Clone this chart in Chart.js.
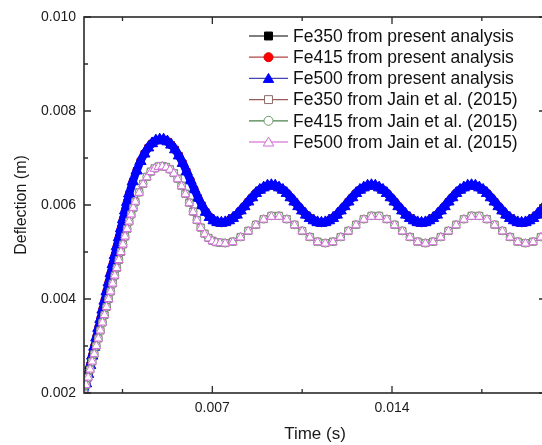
<!DOCTYPE html>
<html>
<head>
<meta charset="utf-8">
<script src="https://cdn.jsdelivr.net/npm/chart.js@4/dist/chart.umd.min.js"></script>
<style>
html,body{margin:0;padding:0;background:#fff;overflow:hidden;}
#wrap{width:542px;height:445px;overflow:hidden;position:relative;}
canvas{display:block;}
</style>
</head>
<body>
<div id="wrap"><canvas id="c" width="560" height="445"></canvas></div>
<script>
// ---- tick values ----
const xTickValues = [0.007, 0.014];
const xMinorTicks = [0.0035, 0.0105, 0.0175];
const yTickValues = [0.002, 0.004, 0.006, 0.008, 0.010];
const yMinorTicks = [0.003, 0.005, 0.007, 0.009];

// ---- present analysis (time, s) ----
const timePresent = [
0.00200,0.00208,0.00216,0.00224,0.00232,0.00240,0.00248,0.00256,0.00264,0.00272,0.00280,0.00288,0.00296,0.00304,0.00312,0.00320,0.00328,0.00336,0.00344,0.00352,0.00360,0.00368,0.00376,
0.00390,0.00405,0.00420,0.00435,0.00450,0.00465,0.00480,0.00495,0.00510,0.00525,0.00540,0.00555,0.00570,0.00585,0.00600,0.00615,0.00630,0.00645,0.00660,0.00675,0.00690,0.00705,0.00720,0.00735,
0.00750,0.00765,0.00780,0.00795,0.00810,0.00825,0.00840,0.00855,0.00870,0.00885,
0.00900,0.00915,0.00930,0.00945,0.00960,0.00975,0.00990,0.01005,0.01020,0.01035,
0.01050,0.01065,0.01080,0.01095,0.01110,0.01125,0.01140,0.01155,0.01170,0.01185,
0.01200,0.01215,0.01230,0.01245,0.01260,0.01275,0.01290,0.01305,0.01320,0.01335,
0.01350,0.01365,0.01380,0.01395,0.01410,0.01425,0.01440,0.01455,0.01470,0.01485,
0.01500,0.01515,0.01530,0.01545,0.01560,0.01575,0.01590,0.01605,0.01620,0.01635,
0.01650,0.01665,0.01680,0.01695,0.01710,0.01725,0.01740,0.01755,0.01770,0.01785,
0.01800,0.01815,0.01830,0.01845,0.01860,0.01875,0.01890,0.01905,0.01920,0.01935,
0.01950,0.01965,0.01980,0.01995];

// deflection (m)
const fe350Present = [
0.00200,0.00220,0.00240,0.00259,0.00279,0.00298,0.00318,0.00338,0.00357,0.00377,0.00396,0.00416,0.00435,0.00455,0.00474,0.00493,0.00512,0.00531,0.00550,0.00569,0.00588,0.00606,0.00624,
0.00650,0.00673,0.00693,0.00709,0.00722,0.00731,0.00737,0.00739,0.00739,0.00735,0.00728,0.00718,0.00705,0.00689,0.00671,0.00652,0.00633,0.00615,0.00599,0.00585,0.00574,0.00567,0.00563,0.00562,
0.00563,0.00567,0.00572,0.00579,0.00588,0.00597,0.00607,0.00616,0.00625,0.00632,0.00637,0.00641,0.00642,0.00641,0.00637,0.00632,0.00625,0.00616,0.00607,0.00597,0.00588,0.00579,0.00572,0.00567,0.00563,
0.00562,0.00563,0.00567,0.00572,0.00579,0.00588,0.00597,0.00607,0.00616,0.00625,0.00632,0.00637,0.00641,0.00642,0.00641,0.00637,0.00632,0.00625,0.00616,0.00607,0.00597,0.00588,0.00579,0.00572,0.00567,0.00563,
0.00562,0.00563,0.00567,0.00572,0.00579,0.00588,0.00597,0.00607,0.00616,0.00625,0.00632,0.00637,0.00641,0.00642,0.00641,0.00637,0.00632,0.00625,0.00616,0.00607,0.00597,0.00588,0.00579,0.00572,0.00567,0.00563,
0.00562,0.00563,0.00567,0.00572,0.00579,0.00588,0.00597];
const fe415Present = [
0.00200,0.00220,0.00240,0.00259,0.00279,0.00298,0.00318,0.00338,0.00357,0.00377,0.00396,0.00416,0.00435,0.00455,0.00474,0.00493,0.00512,0.00531,0.00550,0.00569,0.00588,0.00606,0.00624,
0.00650,0.00673,0.00693,0.00709,0.00722,0.00731,0.00737,0.00739,0.00739,0.00735,0.00728,0.00718,0.00705,0.00689,0.00671,0.00652,0.00633,0.00615,0.00599,0.00585,0.00574,0.00567,0.00563,0.00562,
0.00563,0.00567,0.00572,0.00579,0.00588,0.00597,0.00607,0.00616,0.00625,0.00632,0.00637,0.00641,0.00642,0.00641,0.00637,0.00632,0.00625,0.00616,0.00607,0.00597,0.00588,0.00579,0.00572,0.00567,0.00563,
0.00562,0.00563,0.00567,0.00572,0.00579,0.00588,0.00597,0.00607,0.00616,0.00625,0.00632,0.00637,0.00641,0.00642,0.00641,0.00637,0.00632,0.00625,0.00616,0.00607,0.00597,0.00588,0.00579,0.00572,0.00567,0.00563,
0.00562,0.00563,0.00567,0.00572,0.00579,0.00588,0.00597,0.00607,0.00616,0.00625,0.00632,0.00637,0.00641,0.00642,0.00641,0.00637,0.00632,0.00625,0.00616,0.00607,0.00597,0.00588,0.00579,0.00572,0.00567,0.00563,
0.00562,0.00563,0.00567,0.00572,0.00579,0.00588,0.00597];
const fe500Present = [
0.00200,0.00220,0.00240,0.00259,0.00279,0.00298,0.00318,0.00338,0.00357,0.00377,0.00396,0.00416,0.00435,0.00455,0.00474,0.00493,0.00512,0.00531,0.00550,0.00569,0.00588,0.00606,0.00624,
0.00650,0.00673,0.00693,0.00709,0.00722,0.00731,0.00737,0.00739,0.00739,0.00735,0.00728,0.00718,0.00705,0.00689,0.00671,0.00652,0.00633,0.00615,0.00599,0.00585,0.00574,0.00567,0.00563,0.00562,
0.00563,0.00567,0.00572,0.00579,0.00588,0.00597,0.00607,0.00616,0.00625,0.00632,0.00637,0.00641,0.00642,0.00641,0.00637,0.00632,0.00625,0.00616,0.00607,0.00597,0.00588,0.00579,0.00572,0.00567,0.00563,
0.00562,0.00563,0.00567,0.00572,0.00579,0.00588,0.00597,0.00607,0.00616,0.00625,0.00632,0.00637,0.00641,0.00642,0.00641,0.00637,0.00632,0.00625,0.00616,0.00607,0.00597,0.00588,0.00579,0.00572,0.00567,0.00563,
0.00562,0.00563,0.00567,0.00572,0.00579,0.00588,0.00597,0.00607,0.00616,0.00625,0.00632,0.00637,0.00641,0.00642,0.00641,0.00637,0.00632,0.00625,0.00616,0.00607,0.00597,0.00588,0.00579,0.00572,0.00567,0.00563,
0.00562,0.00563,0.00567,0.00572,0.00579,0.00588,0.00597];

// ---- Jain et al. (2015) (time, s) ----
const timeJain = [
0.00200,0.00208,0.00216,0.00224,0.00232,0.00240,0.00248,0.00256,0.00264,0.00272,0.00280,0.00288,0.00296,0.00304,0.00312,0.00320,0.00328,0.00336,0.00344,0.00352,0.00360,0.00368,0.00376,0.00384,0.00392,0.00400,
0.00415,0.00430,0.00445,0.00460,0.00475,0.00490,0.00505,0.00520,0.00535,0.00550,0.00565,0.00580,0.00595,0.00610,0.00625,0.00640,0.00655,0.00670,0.00685,0.00700,0.00715,0.00730,
0.00750,0.00780,0.00810,0.00840,0.00870,0.00900,0.00930,0.00960,0.00990,0.01020,0.01050,0.01080,0.01110,
0.01140,0.01170,0.01200,0.01230,0.01260,0.01290,0.01320,0.01350,0.01380,0.01410,0.01440,0.01470,0.01500,
0.01530,0.01560,0.01590,0.01620,0.01650,0.01680,0.01710,0.01740,0.01770,0.01800,0.01830,0.01860,0.01890,
0.01920,0.01950,0.01980,0.02010];
const fe350Jain = [
0.00200,0.00217,0.00233,0.00250,0.00267,0.00283,0.00300,0.00316,0.00333,0.00350,0.00366,0.00383,0.00400,0.00416,0.00433,0.00450,0.00466,0.00483,0.00500,0.00516,0.00533,0.00549,0.00565,0.00580,0.00594,0.00607,
0.00627,0.00645,0.00660,0.00671,0.00678,0.00682,0.00683,0.00681,0.00676,0.00668,0.00656,0.00641,0.00624,0.00605,0.00586,0.00568,0.00552,0.00539,0.00530,0.00524,0.00521,0.00520,
0.00519,0.00522,0.00532,0.00545,0.00558,0.00570,0.00577,0.00577,0.00570,0.00558,0.00545,0.00532,0.00522,
0.00519,0.00522,0.00532,0.00545,0.00558,0.00570,0.00577,0.00577,0.00570,0.00558,0.00545,0.00532,0.00522,
0.00519,0.00522,0.00532,0.00545,0.00558,0.00570,0.00577,0.00577,0.00570,0.00558,0.00545,0.00532,0.00522,
0.00519,0.00522,0.00532,0.00545];
const fe415Jain = [
0.00200,0.00217,0.00233,0.00250,0.00267,0.00283,0.00300,0.00316,0.00333,0.00350,0.00366,0.00383,0.00400,0.00416,0.00433,0.00450,0.00466,0.00483,0.00500,0.00516,0.00533,0.00549,0.00565,0.00580,0.00594,0.00607,
0.00627,0.00645,0.00660,0.00671,0.00678,0.00682,0.00683,0.00681,0.00676,0.00668,0.00656,0.00641,0.00624,0.00605,0.00586,0.00568,0.00552,0.00539,0.00530,0.00524,0.00521,0.00520,
0.00519,0.00522,0.00532,0.00545,0.00558,0.00570,0.00577,0.00577,0.00570,0.00558,0.00545,0.00532,0.00522,
0.00519,0.00522,0.00532,0.00545,0.00558,0.00570,0.00577,0.00577,0.00570,0.00558,0.00545,0.00532,0.00522,
0.00519,0.00522,0.00532,0.00545,0.00558,0.00570,0.00577,0.00577,0.00570,0.00558,0.00545,0.00532,0.00522,
0.00519,0.00522,0.00532,0.00545];
const fe500Jain = [
0.00200,0.00217,0.00233,0.00250,0.00267,0.00283,0.00300,0.00316,0.00333,0.00350,0.00366,0.00383,0.00400,0.00416,0.00433,0.00450,0.00466,0.00483,0.00500,0.00516,0.00533,0.00549,0.00565,0.00580,0.00594,0.00607,
0.00626,0.00644,0.00659,0.00670,0.00677,0.00681,0.00682,0.00680,0.00675,0.00667,0.00655,0.00640,0.00623,0.00604,0.00585,0.00567,0.00551,0.00538,0.00529,0.00523,0.00520,0.00519,
0.00518,0.00521,0.00531,0.00544,0.00557,0.00569,0.00575,0.00575,0.00569,0.00557,0.00544,0.00531,0.00521,
0.00518,0.00521,0.00531,0.00544,0.00557,0.00569,0.00575,0.00575,0.00569,0.00557,0.00544,0.00531,0.00521,
0.00518,0.00521,0.00531,0.00544,0.00557,0.00569,0.00575,0.00575,0.00569,0.00557,0.00544,0.00531,0.00521,
0.00518,0.00521,0.00531,0.00544];

const seriesLabels = [
  'Fe350 from present analysis',
  'Fe415 from present analysis',
  'Fe500 from present analysis',
  'Fe350 from Jain et al. (2015)',
  'Fe415 from Jain et al. (2015)',
  'Fe500 from Jain et al. (2015)'
];

const pts = (xs, ys) => xs.map((x, i) => ({x: x, y: ys[i]}));

const styles = [
  {line:'#000000', fill:'#000000', edge:'#000000', shape:'rect',     r:4.5, w:1, order:5},
  {line:'#b03030', fill:'#ff0000', edge:'#e00000', shape:'circle',   r:4,   w:1, order:4},
  {line:'#0000ff', fill:'#0000ff', edge:'#0000ff', shape:'triangle', r:6.5, w:8, order:3},
  {line:'#8b5050', fill:'#ffffff', edge:'#8f6a6a', shape:'rect',     r:5,   w:1, order:2},
  {line:'#3f7f3f', fill:'#ffffff', edge:'#6a9a6a', shape:'circle',   r:4,   w:1, order:1},
  {line:'#cc55cc', fill:'#ffffff', edge:'#d070d8', shape:'triangle', r:5,   w:1, order:0}
];
const legendLineColors = ['#000000', '#b04545', '#4545b0', '#9a5a5a', '#4a804a', '#cc55cc'];
const dataSets = [
  pts(timePresent, fe350Present),
  pts(timePresent, fe415Present),
  pts(timePresent, fe500Present),
  pts(timeJain, fe350Jain),
  pts(timeJain, fe415Jain),
  pts(timeJain, fe500Jain)
];

const FONT = '"Liberation Sans", Arial, sans-serif';
Chart.defaults.font.family = FONT;
Chart.defaults.color = '#1a1a1a';

const framePlugin = {
  id: 'frame',
  afterDatasetsDraw(chart) {
    const {ctx, chartArea: {left, top, right, bottom}, scales: {x, y}} = chart;
    ctx.save();
    ctx.strokeStyle = '#2a2a2a';
    ctx.lineWidth = 1.6;
    ctx.strokeRect(left, top, right - left, bottom - top);
    ctx.lineWidth = 1.3;
    ctx.beginPath();
    const hx = (v, len) => { const p = x.getPixelForValue(v);
      ctx.moveTo(p, bottom); ctx.lineTo(p, bottom - len);
      ctx.moveTo(p, top); ctx.lineTo(p, top + len); };
    const vy = (v, len) => { const p = y.getPixelForValue(v);
      ctx.moveTo(left, p); ctx.lineTo(left + len, p);
      ctx.moveTo(right, p); ctx.lineTo(right - len, p); };
    xTickValues.forEach(v => hx(v, 7));
    xMinorTicks.forEach(v => hx(v, 4));
    yTickValues.forEach(v => vy(v, 7));
    yMinorTicks.forEach(v => vy(v, 4));
    ctx.stroke();
    ctx.restore();
  }
};

function drawMarker(ctx, shape, cx, cy, r, fill, edge) {
  ctx.beginPath();
  if (shape === 'rect') {
    const s = r * Math.SQRT1_2;
    ctx.rect(cx - s, cy - s, 2 * s, 2 * s);
  } else if (shape === 'circle') {
    ctx.arc(cx, cy, r, 0, Math.PI * 2);
  } else {
    ctx.moveTo(cx, cy - r);
    ctx.lineTo(cx + r * 0.866, cy + r * 0.5);
    ctx.lineTo(cx - r * 0.866, cy + r * 0.5);
    ctx.closePath();
  }
  ctx.fillStyle = fill; ctx.fill();
  ctx.strokeStyle = edge; ctx.lineWidth = 1; ctx.stroke();
}

const legendPlugin = {
  id: 'innerLegend',
  afterDraw(chart) {
    const ctx = chart.ctx;
    ctx.save();
    ctx.font = '17.5px ' + FONT;
    ctx.textBaseline = 'middle';
    ctx.textAlign = 'left';
    chart.data.datasets.forEach((ds, i) => {
      const st = styles[i];
      const yy = 36 + i * 21.2;
      ctx.strokeStyle = legendLineColors[i]; ctx.lineWidth = 1.2;
      ctx.beginPath(); ctx.moveTo(249, yy); ctx.lineTo(288, yy); ctx.stroke();
      const lr = st.shape === 'triangle' ? 6 : (st.shape === 'circle' ? 4.5 : 5.6);
      drawMarker(ctx, st.shape, 268.5, yy + (st.shape === 'triangle' ? 1 : 0), lr, st.fill, st.edge);
      ctx.fillStyle = '#111';
      ctx.fillText(ds.label, 293, yy + 1);
    });
    ctx.restore();
  }
};

new Chart(document.getElementById('c'), {
  type: 'line',
  data: {
    datasets: dataSets.map((d, i) => ({
      label: seriesLabels[i],
      data: d,
      order: styles[i].order,
      borderColor: styles[i].line,
      borderWidth: styles[i].w,
      backgroundColor: styles[i].fill,
      pointStyle: styles[i].shape,
      pointRadius: styles[i].r,
      pointBackgroundColor: styles[i].fill,
      pointBorderColor: styles[i].edge,
      pointBorderWidth: 1,
      tension: 0,
      fill: false
    }))
  },
  options: {
    responsive: false,
    animation: false,
    devicePixelRatio: 1,
    layout: {padding: {left: 0, top: 17, right: 14, bottom: 0}},
    plugins: {legend: {display: false}, tooltip: {enabled: false}},
    scales: {
      x: {
        type: 'linear', min: 0.002, max: 0.020,
        grid: {display: false, drawTicks: false},
        border: {display: false},
        afterBuildTicks: s => { s.ticks = xTickValues.map(v => ({value: v})); },
        afterFit: s => { s.height = 52; },
        ticks: {padding: 7, font: {size: 14}, color: '#1a1a1a', maxRotation: 0,
                callback: v => Number(v).toFixed(3)},
        title: {display: true, text: 'Time (s)', font: {size: 17}, color: '#1a1a1a', padding: {top: 0, bottom: 0}}
      },
      y: {
        type: 'linear', min: 0.002, max: 0.010,
        grid: {display: false, drawTicks: false},
        border: {display: false},
        afterBuildTicks: s => { s.ticks = yTickValues.map(v => ({value: v})); },
        afterFit: s => { s.width = 84; },
        ticks: {padding: 8, font: {size: 14}, color: '#1a1a1a',
                callback: v => Number(v).toFixed(3)},
        title: {display: true, text: 'Deflection (m)', font: {size: 16}, color: '#1a1a1a', padding: {top: 12, bottom: 0}}
      }
    }
  },
  plugins: [framePlugin, legendPlugin]
});
</script>
</body>
</html>
